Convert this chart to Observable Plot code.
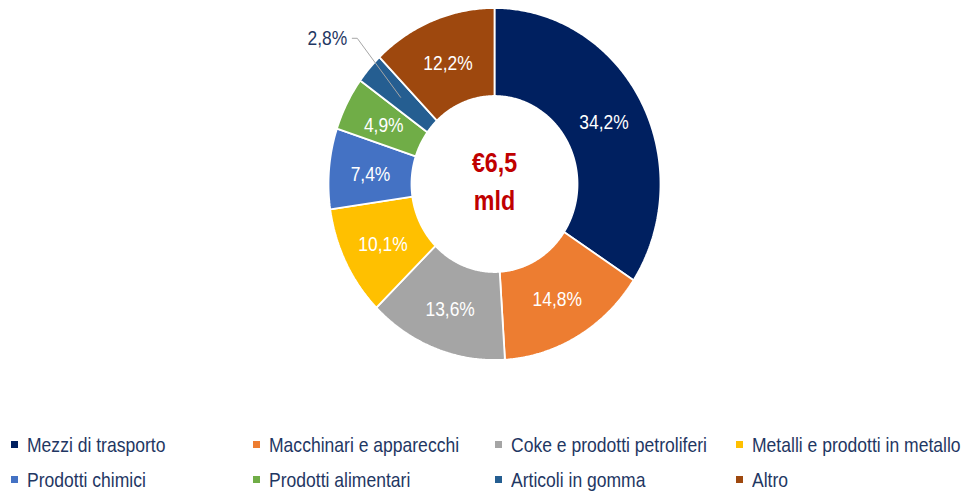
<!DOCTYPE html>
<html>
<head>
<meta charset="utf-8">
<script src="https://cdn.jsdelivr.net/npm/d3@7"></script>
<script src="https://cdn.jsdelivr.net/npm/@observablehq/plot@0.6"></script>
<style>
  html, body { margin: 0; padding: 0; background: #fff; }
  #wrap { position: relative; width: 968px; height: 491px; overflow: hidden; }
  #chart { position: absolute; left: 0; top: 0; }
  #legend { position: absolute; left: 0; top: 0; width: 968px; height: 491px; pointer-events: none; font-family: "Liberation Sans", Arial, sans-serif; }
  .item { position: absolute; display: flex; align-items: center; font-size: 21px; color: #1F3763; white-space: nowrap; line-height: 1; }
  .sw { width: 7px; height: 7px; margin-right: 9px; flex: none; }
  .lt { display: inline-block; transform: scaleX(0.835); transform-origin: 0 50%; }
</style>
</head>
<body>
<div id="wrap">
  <div id="chart"></div>
  <div id="legend"></div>
</div>
<script>
const categories = ["Mezzi di trasporto", "Macchinari e apparecchi", "Coke e prodotti petroliferi", "Metalli e prodotti in metallo", "Prodotti chimici", "Prodotti alimentari", "Articoli in gomma", "Altro"];
const shares = [34.2, 14.8, 13.6, 10.1, 7.4, 4.9, 2.8, 12.2];
const colors = ["#002060", "#ED7D31", "#A5A5A5", "#FFC000", "#4472C4", "#70AD47", "#255E91", "#9E480E"];
const centerLines = ["€6,5", "mld"];
const outsideLabels = ["Articoli in gomma"];

const W = 968, H = 400;
const cx = 494, cy = 183.5, rx = 166, ry = 176;
const inner = 0.5;
const condense = 0.83;

const pie = d3.pie().sort(null).value(d => d.share)(categories.map((name, i) => ({name, share: shares[i]})));

const fmt = v => v.toFixed(1).replace(".", ",") + "%";

// polygon outlines for each slice
const poly = [];
for (const a of pie) {
  const n = Math.max(8, Math.ceil((a.endAngle - a.startAngle) / 0.01));
  const pts = [];
  for (let k = 0; k <= n; k++) {
    const t = a.startAngle + (a.endAngle - a.startAngle) * k / n;
    pts.push({x: Math.sin(t), y: Math.cos(t)});
  }
  for (let k = n; k >= 0; k--) {
    const t = a.startAngle + (a.endAngle - a.startAngle) * k / n;
    pts.push({x: inner * Math.sin(t), y: inner * Math.cos(t)});
  }
  pts.push(pts[0]);
  for (const p of pts) poly.push({...p, name: a.data.name});
}

const mid = a => (a.startAngle + a.endAngle) / 2;
const rLab = (1 + inner) / 2;
const inside = pie.filter(a => !outsideLabels.includes(a.data.name)).map(a => ({
  x: rLab * Math.sin(mid(a)), y: rLab * Math.cos(mid(a)), label: fmt(a.data.share)
}));
const outside = pie.filter(a => outsideLabels.includes(a.data.name));
const leaders = [];
const outText = [];
for (const a of outside) {
  const m = mid(a);
  const elbowAngle = m + 4 * Math.PI / 180;
  const p0 = {x: rLab * Math.sin(m), y: rLab * Math.cos(m)};
  const p1 = {x: 1.17 * Math.sin(elbowAngle), y: 1.17 * Math.cos(elbowAngle)};
  const p2 = {x: p1.x - 5 / rx, y: p1.y};
  leaders.push({...p0, g: a.data.name}, {...p1, g: a.data.name}, {...p2, g: a.data.name});
  outText.push({x: p2.x, y: p2.y, label: fmt(a.data.share)});
}

const font = '"Liberation Sans", Arial, sans-serif';

const chart = Plot.plot({
  width: W, height: H,
  margin: 0,
  style: {fontFamily: font, background: "transparent"},
  x: {domain: [-cx / rx, (W - cx) / rx], axis: null},
  y: {domain: [-(H - cy) / ry, cy / ry], axis: null},
  color: {domain: categories, range: colors},
  marks: [
    Plot.line(poly, {x: "x", y: "y", z: "name", fill: "name", stroke: "white", strokeWidth: 1.8, strokeLinejoin: "miter", curve: "linear"}),
    Plot.text(inside, {x: "x", y: "y", text: "label", fill: "white", fontSize: 21, dy: 1.5}),
    Plot.line(leaders, {x: "x", y: "y", z: "g", stroke: "#A6A6A6", strokeWidth: 1}),
    Plot.text(outText, {x: "x", y: "y", text: "label", fill: "#1F3763", fontSize: 21, textAnchor: "end", dx: -5}),
    Plot.text([centerLines.join("\n")], {x: () => 0, y: () => 0, text: d => d, fill: "#C00000", fontSize: 28, fontWeight: "bold", lineHeight: 1.36, dy: -5})
  ]
});

// emulate a narrow typeface: compress each text horizontally around its anchor
chart.querySelectorAll("text").forEach(t => {
  const tr = t.getAttribute("transform") || "";
  t.setAttribute("transform", `${tr} scale(${condense},1)`);
});
document.getElementById("chart").appendChild(chart);

// legend
const legend = document.getElementById("legend");
const colX = [11, 253, 495, 736];
const rowY = [444, 479];
categories.forEach((c, i) => {
  const el = document.createElement("div");
  el.className = "item";
  el.style.left = colX[i % 4] + "px";
  el.style.top = (rowY[Math.floor(i / 4)] - 11) + "px";
  el.style.height = "22px";
  el.innerHTML = `<span class="sw" style="background:${colors[i]}"></span><span class="lt">${c}</span>`;
  legend.appendChild(el);
});
</script>
</body>
</html>
